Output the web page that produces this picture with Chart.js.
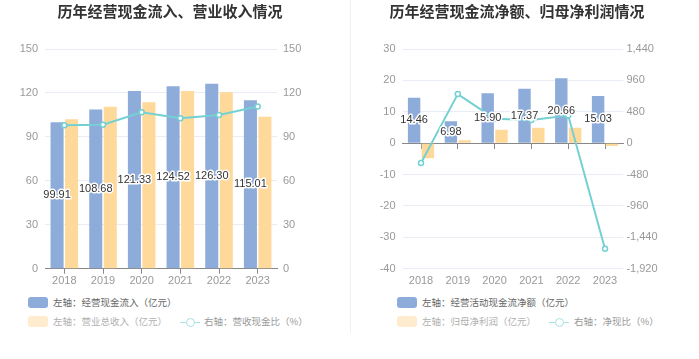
<!DOCTYPE html>
<html>
<head>
<meta charset="utf-8">
<script src="https://cdn.jsdelivr.net/npm/chart.js@4.4.1/dist/chart.umd.min.js"></script>
<style>
  html, body { margin: 0; padding: 0; background: #fff; }
  body { width: 699px; height: 359px; position: relative; overflow: hidden; font-family: "Liberation Sans", "Noto Sans CJK SC", sans-serif; }
  .panel { position: absolute; top: 0; height: 359px; }
  .divider { position: absolute; left: 350px; top: 0; width: 1px; height: 333px; background: #f0f0f0; z-index: 5; }
  .lg { position: absolute; font-family: "Noto Sans CJK SC", sans-serif; font-size: 9.5px; line-height: 12px; white-space: nowrap; }
  .box { position: absolute; width: 20px; height: 11px; border-radius: 3px; }
  .lineicon { position: absolute; width: 20px; height: 12px; }
  .lineicon:before { content: ""; position: absolute; left: 0; top: 5.5px; width: 20px; height: 1.5px; background: #a8e2e4; }
  .lineicon:after { content: ""; position: absolute; left: 5.5px; top: 1.5px; width: 7px; height: 7px; border: 1.5px solid #a8e2e4; border-radius: 50%; background: #fff; }
</style>
</head>
<body>
<div class="panel" style="left:0;width:350px;"><canvas id="c1" width="350" height="292"></canvas></div>
<div class="panel" style="left:350px;width:349px;"><canvas id="c2" width="349" height="292"></canvas></div>
<div class="divider"></div>

<div class="box" style="left:28px;top:297px;background:#8eacda;"></div>
<div class="lg" style="left:53px;top:296px;color:#666;">左轴：经营现金流入（亿元）</div>
<div class="box" style="left:28px;top:316px;background:#ffebcd;"></div>
<div class="lg" style="left:53px;top:315px;color:#b0b0b0;">左轴：营业总收入（亿元）</div>
<div class="lineicon" style="left:180px;top:316px;"></div>
<div class="lg" style="left:204px;top:315px;color:#999;">右轴：营收现金比（%）</div>

<div class="box" style="left:397px;top:297px;background:#8eacda;"></div>
<div class="lg" style="left:422px;top:296px;color:#666;">左轴：经营活动现金流净额（亿元）</div>
<div class="box" style="left:397px;top:316px;background:#ffebcd;"></div>
<div class="lg" style="left:422px;top:315px;color:#b0b0b0;">左轴：归母净利润（亿元）</div>
<div class="lineicon" style="left:549px;top:316px;"></div>
<div class="lg" style="left:574px;top:315px;color:#999;">右轴：净现比（%）</div>

<script>
// ---- data ----
const years = ['2018', '2019', '2020', '2021', '2022', '2023'];
// left chart
const cashInflow = [99.91, 108.68, 121.33, 124.52, 126.30, 115.01];
const totalRevenue = [102.0, 110.6, 113.6, 121.3, 120.4, 103.8];
const cashRevenueRatio = [98.0, 98.3, 106.8, 102.7, 104.9, 110.8];
const leftTicks = [0, 30, 60, 90, 120, 150];
// right chart
const netOperatingCash = [14.46, 6.98, 15.90, 17.37, 20.66, 15.03];
const netProfit = [-4.78, 0.93, 4.24, 4.88, 4.88, -0.93];
const netCashRatio = [-302.5, 750.5, 375.0, 355.9, 423.4, -1616.1];
const rightLeftTicks = [-40, -30, -20, -10, 0, 10, 20, 30];
const rightRightTicks = [-1920, -1440, -960, -480, 0, 480, 960, 1440];

const BLUE = '#8eacda';
const YELLOW = '#ffd99a';
const CYAN = '#74d0d3';
const TICK = '#999';
const GRID = '#e8ecf5';
const AXIS = '#888';
const FONT = "'Liberation Sans', 'Noto Sans CJK SC', sans-serif";
const CJK = "'Noto Sans CJK SC', sans-serif";

const barLabels = {
  id: 'barLabels',
  afterDatasetsDraw(chart) {
    const ctx = chart.ctx;
    const meta = chart.getDatasetMeta(0);
    const data = chart.data.datasets[0].data;
    ctx.save();
    ctx.font = '11px ' + FONT;
    ctx.textAlign = 'center';
    ctx.textBaseline = 'middle';
    ctx.lineJoin = 'round';
    meta.data.forEach((el, i) => {
      const p = el.getProps(['x', 'y', 'base'], true);
      const t = data[i].toFixed(2);
      const yy = (p.y + p.base) / 2;
      ctx.lineWidth = 3;
      ctx.strokeStyle = '#fff';
      ctx.strokeText(t, p.x, yy);
      ctx.fillStyle = '#333';
      ctx.fillText(t, p.x, yy);
    });
    ctx.restore();
  }
};

function fixW(w) { return (s) => { s.width = w; }; }
function fixH(h) { return (s) => { s.height = h; }; }

function tickValues(arr) {
  return (scale) => { scale.ticks = arr.map(v => ({ value: v })); };
}

const titleOpts = (text) => ({
  display: true,
  text: text,
  color: '#333',
  font: { size: 15, weight: 'bold', family: CJK },
  padding: { top: 2, bottom: 29 }
});

new Chart(document.getElementById('c1'), {
  type: 'bar',
  data: {
    labels: years,
    datasets: [
      { type: 'bar', label: '左轴：经营现金流入（亿元）', data: cashInflow, backgroundColor: BLUE, yAxisID: 'y', barPercentage: 0.9, categoryPercentage: 0.75, order: 2 },
      { type: 'bar', label: '左轴：营业总收入（亿元）', data: totalRevenue, backgroundColor: YELLOW, yAxisID: 'y', barPercentage: 0.9, categoryPercentage: 0.75, order: 2 },
      { type: 'line', label: '右轴：营收现金比（%）', data: cashRevenueRatio, borderColor: CYAN, backgroundColor: '#fff', borderWidth: 2, pointRadius: 2.5, pointBorderWidth: 1.5, pointBackgroundColor: '#fff', pointBorderColor: CYAN, yAxisID: 'y1', tension: 0, order: 1 }
    ]
  },
  options: {
    responsive: false,
    animation: false,
    devicePixelRatio: 1,
    layout: { padding: { left: 0, top: 0, bottom: 0, right: 10 } },
    plugins: {
      title: titleOpts('历年经营现金流入、营业收入情况'),
      legend: { display: false },
      tooltip: { enabled: false }
    },
    scales: {
      x: {
        offset: true,
        grid: { display: true, drawOnChartArea: false, offset: false, tickLength: 5, color: AXIS },
        border: { display: true, color: AXIS },
        ticks: { color: TICK, font: { size: 11, family: FONT }, padding: 1 },
        afterFit: fixH(23.3)
      },
      y: {
        position: 'left',
        min: 0, max: 150,
        afterBuildTicks: tickValues(leftTicks),
        grid: { color: GRID, drawTicks: false },
        border: { display: false },
        ticks: { color: TICK, font: { size: 11, family: FONT }, padding: 7 },
        afterFit: fixW(45)
      },
      y1: {
        position: 'right',
        min: 0, max: 150,
        afterBuildTicks: tickValues(leftTicks),
        grid: { display: false, drawTicks: false },
        border: { display: false },
        ticks: { color: TICK, font: { size: 11, family: FONT }, padding: 6 },
        afterFit: fixW(63)
      }
    }
  },
  plugins: [barLabels]
});

new Chart(document.getElementById('c2'), {
  type: 'bar',
  data: {
    labels: years,
    datasets: [
      { type: 'bar', label: '左轴：经营活动现金流净额（亿元）', data: netOperatingCash, backgroundColor: BLUE, yAxisID: 'y', barPercentage: 0.9, categoryPercentage: 0.75, order: 2 },
      { type: 'bar', label: '左轴：归母净利润（亿元）', data: netProfit, backgroundColor: YELLOW, yAxisID: 'y', barPercentage: 0.9, categoryPercentage: 0.75, order: 2 },
      { type: 'line', label: '右轴：净现比（%）', data: netCashRatio, borderColor: CYAN, backgroundColor: '#fff', borderWidth: 2, pointRadius: 2.5, pointBorderWidth: 1.5, pointBackgroundColor: '#fff', pointBorderColor: CYAN, yAxisID: 'y1', tension: 0, order: 1 }
    ]
  },
  options: {
    responsive: false,
    animation: false,
    devicePixelRatio: 1,
    layout: { padding: { left: 0, top: 0, bottom: 0, right: 15 } },
    plugins: {
      title: titleOpts('历年经营现金流净额、归母净利润情况'),
      legend: { display: false },
      tooltip: { enabled: false }
    },
    scales: {
      x: {
        offset: true,
        grid: { display: false, drawTicks: false },
        border: { display: false },
        ticks: { color: TICK, font: { size: 11, family: FONT }, padding: 6 },
        afterFit: fixH(23.3)
      },
      x2: {
        type: 'category',
        axis: 'x',
        labels: years,
        position: { y: 0 },
        offset: true,
        grid: { display: true, drawOnChartArea: false, offset: false, tickLength: 5, color: AXIS },
        border: { display: true, color: AXIS },
        ticks: { display: false }
      },
      y: {
        position: 'left',
        min: -40, max: 30,
        afterBuildTicks: tickValues(rightLeftTicks),
        grid: { color: GRID, drawTicks: false },
        border: { display: false },
        ticks: { color: TICK, font: { size: 11, family: FONT }, padding: 7 },
        afterFit: fixW(52.6)
      },
      y1: {
        position: 'right',
        min: -1920, max: 1440,
        afterBuildTicks: tickValues(rightRightTicks),
        grid: { display: false, drawTicks: false },
        border: { display: false },
        ticks: { color: TICK, font: { size: 11, family: FONT }, padding: 3, callback: (v) => Number(v).toLocaleString('en-US') },
        afterFit: fixW(60.6)
      }
    }
  },
  plugins: [barLabels]
});
</script>
</body>
</html>
